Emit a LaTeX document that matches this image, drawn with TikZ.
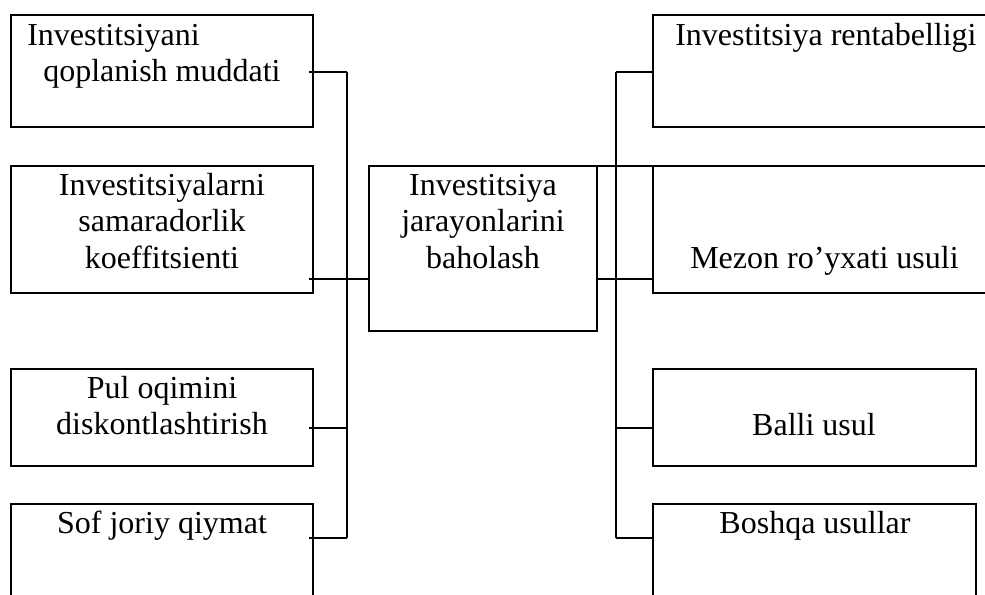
\documentclass[tikz,border=0pt]{standalone}
\usepackage{fontspec}
\setmainfont{Liberation Serif}
\newcommand\tstrut{\rule{0pt}{18pt}}
\tikzset{
  box/.style={draw, line width=1.5pt, inner sep=0pt, outer sep=0pt, anchor=north west},
  conn/.style={draw, line width=0.9pt},
  txt/.style={inner sep=0pt, font=\fontsize{24}{27.5}\selectfont, align=center, anchor=north},
  txtl/.style={txt, align=left, anchor=north west}
}
\begin{document}
\begin{tikzpicture}[x=0.75pt,y=-0.75pt]
\useasboundingbox (0,0) rectangle (985,595);
\clip (0,0) rectangle (985,595);
% boxes
\node[box, minimum width=226.5pt, minimum height=84pt] (L1) at (11,15) {};
\node[box, minimum width=226.5pt, minimum height=95.25pt] (L2) at (11,166) {};
\node[box, minimum width=226.5pt, minimum height=72.75pt] (L3) at (11,369) {};
\node[box, minimum width=226.5pt, minimum height=102pt] (L4) at (11,504) {};
\node[box, minimum width=171pt, minimum height=123.75pt] (C) at (369,166) {};
\node[box, minimum width=290.25pt, minimum height=84pt] (R1) at (653,15) {};
\node[box, minimum width=290.25pt, minimum height=95.25pt] (R2) at (653,166) {};
\node[box, minimum width=242.25pt, minimum height=72.75pt] (R3) at (653,369) {};
\node[box, minimum width=242.25pt, minimum height=102pt] (R4) at (653,504) {};
% texts
\node[txtl] (tL1) at (27,21) {\tstrut Investitsiyani\\\hspace*{12pt}qoplanish muddati};
\node[txt] (tL2) at (162,171) {\tstrut Investitsiyalarni\\samaradorlik\\koeffitsienti};
\node[txt] (tL3) at (162,374) {\tstrut Pul oqimini\\diskontlashtirish};
\node[txt] (tL4) at (162,509) {\tstrut Sof joriy qiymat};
\node[txt] (tC) at (483,171) {\tstrut Investitsiya\\jarayonlarini\\baholash};
\node[txtl] (tR1) at (675,21) {\tstrut Investitsiya rentabelligi};
\node[txtl] (tR2) at (690,244) {\tstrut Mezon ro’yxati usuli};
\node[txt] (tR3) at (814,411) {\tstrut Balli usul};
\node[txt] (tR4) at (815,509) {\tstrut Boshqa usullar};
% bus coordinates
\coordinate (LB1) at (347,72);
\coordinate (LB2) at (347,279);
\coordinate (LB3) at (347,428);
\coordinate (LB4) at (347,538);
\coordinate (RB1) at (616,72);
\coordinate (RB2) at (616,279);
\coordinate (RB3) at (616,428);
\coordinate (RB4) at (616,538);
% left connectors
\draw[conn] (LB1) -- (LB4);
\draw[conn] (LB1) -- ([xshift=-3pt]LB1 -| L1.east);
\draw[conn] ([xshift=-3pt]LB2 -| L2.east) -- (LB2 -| C.west);
\draw[conn] (LB3) -- ([xshift=-3pt]LB3 -| L3.east);
\draw[conn] (LB4) -- ([xshift=-3pt]LB4 -| L4.east);
% right connectors
\draw[conn] (RB1) -- (RB4);
\draw[conn] (RB1) -- (RB1 -| R1.west);
\draw[conn] (RB2 -| C.east) -- (RB2 -| R2.west);
\draw[conn] (RB3) -- (RB3 -| R3.west);
\draw[conn] (RB4) -- (RB4 -| R4.west);
\draw[box] (C.north east) -- (R2.north west);
\end{tikzpicture}
\end{document}
